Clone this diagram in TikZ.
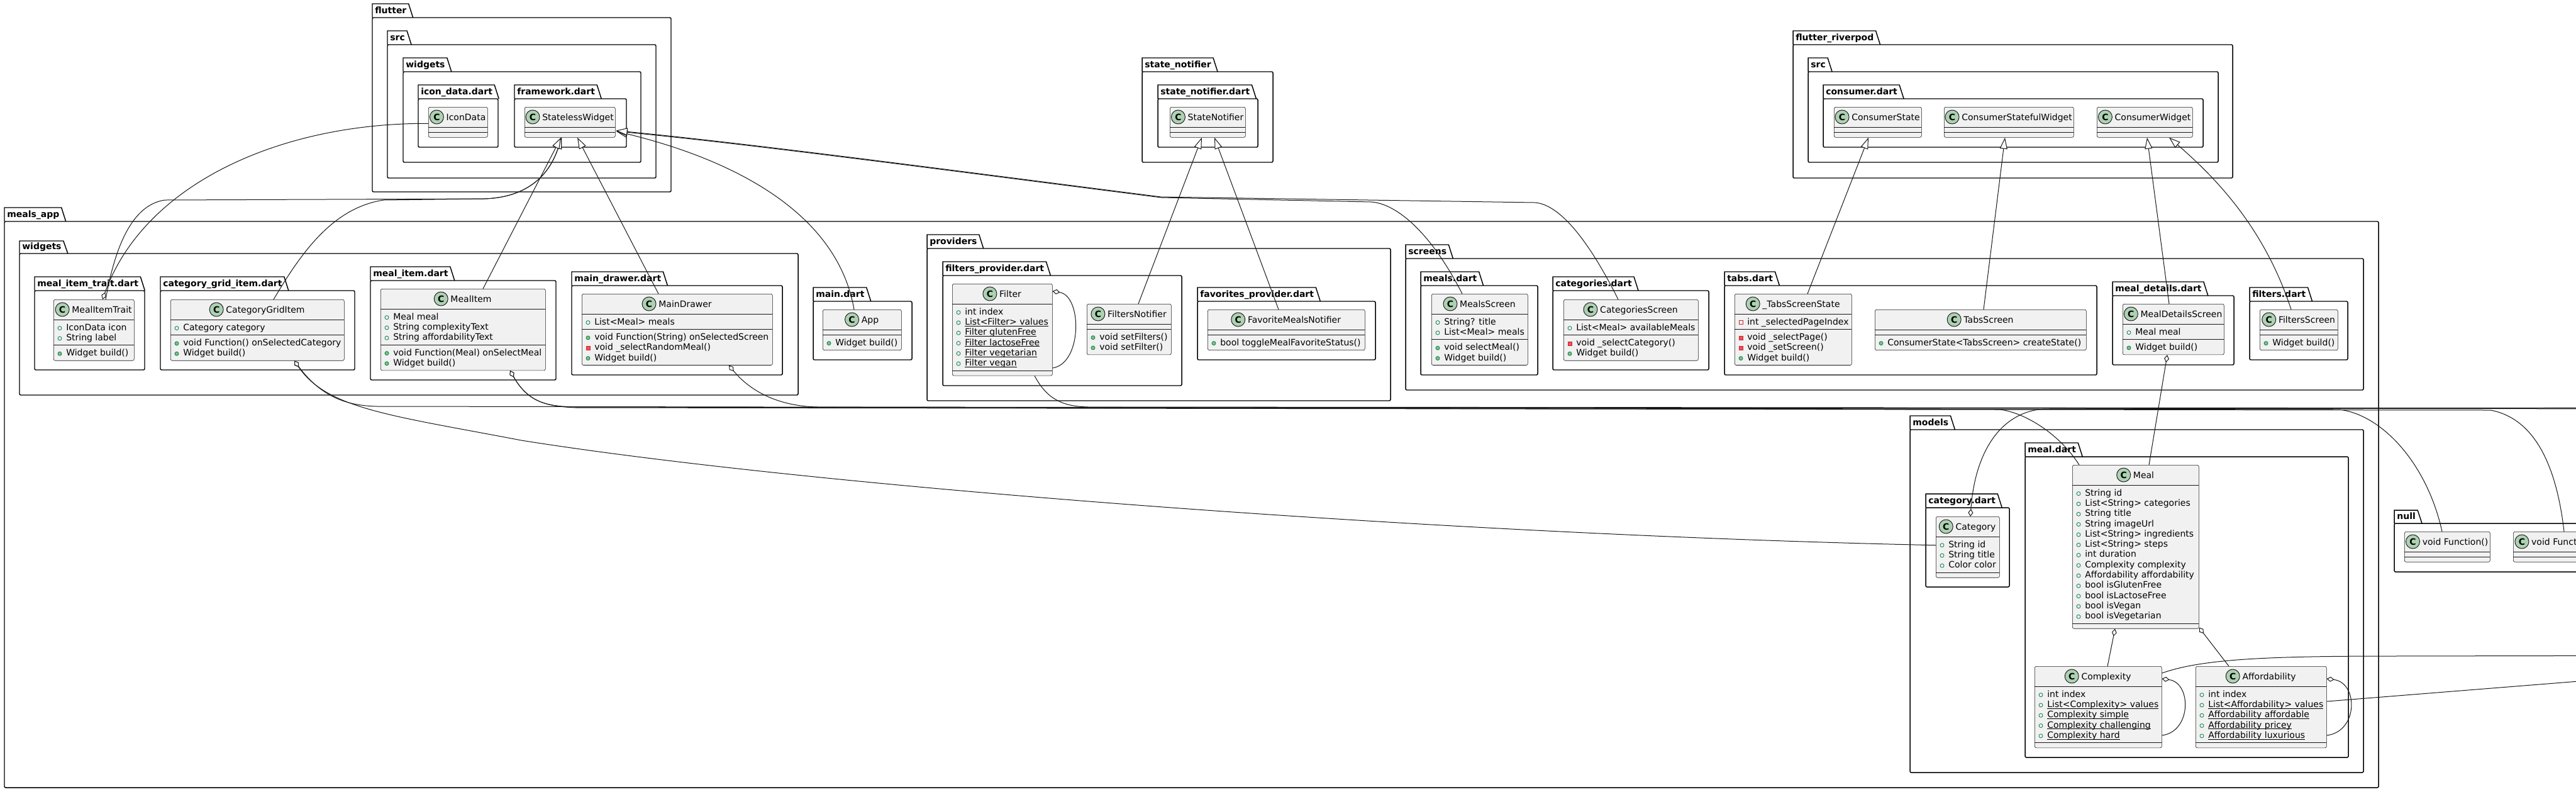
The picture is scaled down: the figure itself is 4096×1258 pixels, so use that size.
\documentclass[tikz,border=0pt]{standalone}
\usepackage{fontspec}
\setmainfont{DejaVu Sans}
\usetikzlibrary{arrows.meta,calc}
\definecolor{clsfill}{HTML}{F1F1F1}
\definecolor{clsline}{HTML}{181818}
\definecolor{circfill}{HTML}{ADD1B2}
\definecolor{pubdraw}{HTML}{038048}
\definecolor{pubfill}{HTML}{84BE84}
\definecolor{privdraw}{HTML}{C82930}
\definecolor{privfill}{HTML}{F24D5C}
\tikzset{
  pkgline/.style={line width=1.1pt, draw=black},
  pkglabel/.style={font=\bfseries\fontsize{10.5pt}{12pt}\selectfont, inner sep=0pt, anchor=base west},
  classbox/.style={draw=clsline, fill=clsfill, line width=0.45pt, rounded corners=1.9pt, inner sep=0pt, anchor=north west},
  sepline/.style={draw=clsline, line width=0.45pt},
  cname/.style={font=\fontsize{10.5pt}{12pt}\selectfont, inner sep=0pt},
  circC/.style={circle, draw=clsline, fill=circfill, line width=0.7pt, minimum size=16.5pt, inner sep=0pt, font=\bfseries\fontsize{10.5pt}{12pt}\selectfont},
  member/.style={font=\fontsize{10.5pt}{12pt}\selectfont, inner sep=0pt, anchor=base west},
  conn/.style={draw=clsline, line width=0.75pt},
  ext/.style={conn, -{Triangle[length=13.5pt,width=9pt,fill=white]}},
  agg/.style={conn, {Diamond[length=9pt,width=6pt,fill=white]}-},
}
% static member underline at a fixed depth
\newcommand\stul[1]{\setbox0=\hbox{#1}\rlap{\rule[-1.5pt]{\wd0}{0.6pt}}\box0}
% package: id, x1, ytab, ybody, x2, y2, label
\newcommand\pkg[7]{%
  \node[pkglabel] (#1) at ({#2+4},{#4-6.5}) {#7};
  \draw[pkgline, rounded corners=1.5pt] (#2,#4) rectangle (#5,#6);
  \draw[pkgline] (#2,#4) -- (#2,#3) -- ($(#1.base east |- 0,#3)+(3,0)$) -- ($(#1.base east |- 0,#4)+(10,0)$);
}
% class: id, x1, y1, x2, name, nattr, nmeth
\newcommand\umlcls[7]{%
  \def\curcls{#1}%
  \pgfmathsetmacro\cxA{#2}%
  \pgfmathsetmacro\cyA{#3+32}%
  \pgfmathsetmacro\cyM{#3+40+16.3*#6}%
  \pgfmathsetmacro\cyB{\cyM+8+16.3*#7}%
  \pgfmathsetmacro\cW{(#4-#2)*0.75}%
  \pgfmathsetmacro\cH{(\cyB-#3)*0.75}%
  \node[classbox, minimum width=\cW pt, minimum height=\cH pt] (#1) at (#2,#3) {};
  \draw[sepline] (#2,\cyA) -- (#4,\cyA);
  \draw[sepline] (#2,\cyM) -- (#4,\cyM);
  \node[cname, anchor=base] (#1name) at ({(#2+#4)/2+13},{#3+21}) {#5};
  \node[circC] (#1circ) at ($(#1name.base west)+(-15,-5)$) {C};
}
\newcommand\vispf[2]{\draw[draw=pubdraw, line width=0.6pt] ({#1},{#2}) circle[radius=2.25pt];}
\newcommand\vispm[2]{\filldraw[draw=pubdraw, fill=pubfill, line width=0.6pt] ({#1},{#2}) circle[radius=2.25pt];}
\newcommand\visvf[2]{\draw[draw=privdraw, line width=0.6pt] ({#1-3},{#2-3}) rectangle ({#1+3},{#2+3});}
\newcommand\visvm[2]{\filldraw[draw=privdraw, fill=privfill, line width=0.6pt] ({#1-3},{#2-3}) rectangle ({#1+3},{#2+3});}
% member: section A/M, index, icon, text
\newcommand\mem[4]{%
  \pgfmathsetmacro\mRy{\csname cy#1\endcsname+4+16.3*(#2+0.5)}%
  \csname vis#3\endcsname{\cxA+10}{\mRy+1.5}%
  \node[member] (\curcls#1#2) at ({\cxA+20},{\mRy+5}) {#4};
}
\begin{document}
\begin{tikzpicture}[x=0.75pt,y=-0.75pt]
\useasboundingbox (0,0) rectangle (4096,1258);
\fill[white] (0,0) rectangle (4096,1258);

% ---------- packages ----------
\pkg{pkflutter}{592}{6}{28}{1067}{305}{flutter}
\pkg{pkfsrc}{616}{49}{71}{1043}{283}{src}
\pkg{pkfwidgets}{641}{92}{114}{1019}{258}{widgets}
\pkg{pkicondata}{665}{135}{157}{792}{234}{icon\_data.dart}
\pkg{pkframework}{818}{135}{157}{996}{234}{framework.dart}
\pkg{pksn}{1816}{92}{114}{2024}{258}{state\_notifier}
\pkg{pksndart}{1841}{135}{157}{2000}{234}{state\_notifier.dart}
\pkg{pkfr}{2851}{49}{71}{3550}{283}{flutter\_riverpod}
\pkg{pkfrsrc}{2875}{92}{114}{3527}{258}{src}
\pkg{pkconsumer}{2899}{135}{157}{3503}{234}{consumer.dart}
\pkg{pkmeals}{7}{330}{352}{3782}{1252}{meals\_app}
\pkg{pkmwidgets}{31}{383}{403}{1269}{628}{widgets}
\pkg{pkmit}{55}{440}{462}{230}{588}{meal\_item\_trait.dart}
\pkg{pkcgi}{255}{440}{462}{564}{588}{category\_grid\_item.dart}
\pkg{pkmi}{589}{424}{446}{884}{604}{meal\_item.dart}
\pkg{pkmd}{909}{432}{454}{1244}{596}{main\_drawer.dart}
\pkg{pkmain}{1293}{457}{479}{1450}{572}{main.dart}
\pkg{pkprov}{1474}{373}{395}{2211}{637}{providers}
\pkg{pkfp}{1499}{416}{438}{1879}{613}{filters\_provider.dart}
\pkg{pkfavp}{1904}{457}{479}{2187}{572}{favorites\_provider.dart}
\pkg{pkscreens}{2235}{389}{411}{3758}{620}{screens}
\pkg{pkmealsd}{2259}{432}{454}{2445}{596}{meals.dart}
\pkg{pkcat}{2469}{440}{462}{2717}{588}{categories.dart}
\pkg{pktabs}{2742}{432}{454}{3334}{596}{tabs.dart}
\pkg{pkmdet}{3359}{448}{470}{3552}{580}{meal\_details.dart}
\pkg{pkfilt}{3577}{457}{479}{3733}{572}{filters.dart}
\pkg{pkmodels}{3037}{661}{683}{3758}{1228}{models}
\pkg{pkcatd}{3062}{785}{807}{3195}{933}{category.dart}
\pkg{pkmeald}{3220}{704}{726}{3734}{1204}{meal.dart}
\pkg{pknull}{3807}{811}{832}{4300}{909}{null}

% ---------- classes ----------
\umlcls{IconData}{681}{170}{775}{IconData}{0}{0}
\umlcls{StatelessWidget}{834}{170}{978}{StatelessWidget}{0}{0}
\umlcls{StateNotifier}{1860}{170}{1980}{StateNotifier}{0}{0}
\umlcls{ConsumerState}{2916}{170}{3055}{ConsumerState}{0}{0}
\umlcls{ConsumerStatefulWidget}{3091}{170}{3297}{ConsumerStatefulWidget}{0}{0}
\umlcls{ConsumerWidget}{3334}{170}{3486}{ConsumerWidget}{0}{0}

\umlcls{MealItemTrait}{85}{476}{213}{MealItemTrait}{2}{1}
\mem{A}{0}{pf}{IconData icon}
\mem{A}{1}{pf}{String label}
\mem{M}{0}{pm}{Widget build()}

\umlcls{CategoryGridItem}{271}{476}{547}{CategoryGridItem}{1}{2}
\mem{A}{0}{pf}{Category category}
\mem{M}{0}{pm}{void Function() onSelectedCategory}
\mem{M}{1}{pm}{Widget build()}

\umlcls{MealItem}{605}{459}{867}{MealItem}{3}{2}
\mem{A}{0}{pf}{Meal meal}
\mem{A}{1}{pf}{String complexityText}
\mem{A}{2}{pf}{String affordabilityText}
\mem{M}{0}{pm}{void Function(Meal) onSelectMeal}
\mem{M}{1}{pm}{Widget build()}

\umlcls{MainDrawer}{925}{467}{1228}{MainDrawer}{1}{3}
\mem{A}{0}{pf}{List<Meal> meals}
\mem{M}{0}{pm}{void Function(String) onSelectedScreen}
\mem{M}{1}{vm}{void \_selectRandomMeal()}
\mem{M}{2}{pm}{Widget build()}

\umlcls{App}{1308}{492}{1433}{App}{0}{1}
\mem{M}{0}{pm}{Widget build()}

\umlcls{Filter}{1514}{451}{1673}{Filter}{6}{0}
\mem{A}{0}{pf}{int index}
\mem{A}{1}{pf}{\stul{List<Filter> values}}
\mem{A}{2}{pf}{\stul{Filter glutenFree}}
\mem{A}{3}{pf}{\stul{Filter lactoseFree}}
\mem{A}{4}{pf}{\stul{Filter vegetarian}}
\mem{A}{5}{pf}{\stul{Filter vegan}}

\umlcls{FiltersNotifier}{1728}{483}{1862}{FiltersNotifier}{0}{2}
\mem{M}{0}{pm}{void setFilters()}
\mem{M}{1}{pm}{void setFilter()}

\umlcls{FavoriteMealsNotifier}{1920}{492}{2170}{FavoriteMealsNotifier}{0}{1}
\mem{M}{0}{pm}{bool toggleMealFavoriteStatus()}

\umlcls{MealsScreen}{2276}{467}{2429}{MealsScreen}{2}{2}
\mem{A}{0}{pf}{String? title}
\mem{A}{1}{pf}{List<Meal> meals}
\mem{M}{0}{pm}{void selectMeal()}
\mem{M}{1}{pm}{Widget build()}

\umlcls{CategoriesScreen}{2486}{476}{2700}{CategoriesScreen}{1}{2}
\mem{A}{0}{pf}{List<Meal> availableMeals}
\mem{M}{0}{vm}{void \_selectCategory()}
\mem{M}{1}{pm}{Widget build()}

\umlcls{TabsScreenState}{2758}{467}{2944}{\_TabsScreenState}{1}{3}
\mem{A}{0}{vf}{int \_selectedPageIndex}
\mem{M}{0}{vm}{void \_selectPage()}
\mem{M}{1}{vm}{void \_setScreen()}
\mem{M}{2}{pm}{Widget build()}

\umlcls{TabsScreen}{2981}{492}{3317}{TabsScreen}{0}{1}
\mem{M}{0}{pm}{ConsumerState<TabsScreen> createState()}

\umlcls{MealDetailsScreen}{3375}{483}{3536}{MealDetailsScreen}{1}{1}
\mem{A}{0}{pf}{Meal meal}
\mem{M}{0}{pm}{Widget build()}

\umlcls{FiltersScreen}{3593}{492}{3717}{FiltersScreen}{0}{1}
\mem{M}{0}{pm}{Widget build()}

\umlcls{Category}{3078}{821}{3179}{Category}{3}{0}
\mem{A}{0}{pf}{String id}
\mem{A}{1}{pf}{String title}
\mem{A}{2}{pf}{Color color}

\umlcls{Meal}{3295}{739}{3496}{Meal}{13}{0}
\mem{A}{0}{pf}{String id}
\mem{A}{1}{pf}{List<String> categories}
\mem{A}{2}{pf}{String title}
\mem{A}{3}{pf}{String imageUrl}
\mem{A}{4}{pf}{List<String> ingredients}
\mem{A}{5}{pf}{List<String> steps}
\mem{A}{6}{pf}{int duration}
\mem{A}{7}{pf}{Complexity complexity}
\mem{A}{8}{pf}{Affordability affordability}
\mem{A}{9}{pf}{bool isGlutenFree}
\mem{A}{10}{pf}{bool isLactoseFree}
\mem{A}{11}{pf}{bool isVegan}
\mem{A}{12}{pf}{bool isVegetarian}

\umlcls{Complexity}{3235}{1059}{3437}{Complexity}{5}{0}
\mem{A}{0}{pf}{int index}
\mem{A}{1}{pf}{\stul{List<Complexity> values}}
\mem{A}{2}{pf}{\stul{Complexity simple}}
\mem{A}{3}{pf}{\stul{Complexity challenging}}
\mem{A}{4}{pf}{\stul{Complexity hard}}

\umlcls{Affordability}{3491}{1059}{3699}{Affordability}{5}{0}
\mem{A}{0}{pf}{int index}
\mem{A}{1}{pf}{\stul{List<Affordability> values}}
\mem{A}{2}{pf}{\stul{Affordability affordable}}
\mem{A}{3}{pf}{\stul{Affordability pricey}}
\mem{A}{4}{pf}{\stul{Affordability luxurious}}

\umlcls{vfA}{3823}{845}{3959}{void Function()}{0}{0}
\umlcls{vfB}{3996}{845}{4166}{void Function(Meal)}{0}{0}

% ---------- off-page ends ----------
\coordinate (offVFS) at (4300,650);
\coordinate (offColor) at (4300,648);
\coordinate (offEnumF) at (4300,649);
\coordinate (offEnumC) at (4300,1042);
\coordinate (offEnumA) at (4300,1067);

% ---------- inheritance ----------
\draw[ext] ($(MealItemTrait.north west)+(83,0)$) .. controls (185,380) and (215,325) .. (262,318) -- (770,316) .. controls (835,314) and (872,282) .. ($(StatelessWidget.south west)+(59,0)$);
\draw[ext] ($(CategoryGridItem.north west)+(164,0)$) .. controls (480,400) and (530,330) .. (610,318) -- (770,316) .. controls (835,314) and (872,282) .. ($(StatelessWidget.south west)+(59,0)$);
\draw[ext] ($(MealItem.north west)+(163,0)$) -- ($(StatelessWidget.south west)+(58,0)$);
\draw[ext] ($(MainDrawer.north west)+(122,0)$) -- ($(StatelessWidget.south west)+(84,0)$);
\draw[ext] ($(App.north west)+(50,0)$) .. controls (1330,330) and (1150,250) .. ($(StatelessWidget.south east)+(1,-10)$);
\draw[ext] ($(MealsScreen.north west)+(49,0)$) .. controls (2270,360) and (2215,323) .. (2180,321) -- (1846,314) .. controls (1500,270) and (1200,230) .. ($(StatelessWidget.south east)+(1,-10)$);
\draw[ext] ($(CategoriesScreen.north west)+(87,0)$) .. controls (2520,370) and (2475,324) .. (2440,322) -- (1846,313) .. controls (1500,269) and (1200,229) .. ($(StatelessWidget.south east)+(1,-11)$);
\draw[ext] ($(FiltersNotifier.north west)+(82,0)$) -- ($(StateNotifier.south west)+(51,0)$);
\draw[ext] ($(FavoriteMealsNotifier.north west)+(113,0)$) -- ($(StateNotifier.south west)+(71,0)$);
\draw[ext] ($(TabsScreenState.north west)+(116,0)$) -- ($(ConsumerState.south west)+(55,0)$);
\draw[ext] ($(TabsScreen.north west)+(173,0)$) -- ($(ConsumerStatefulWidget.south west)+(97,0)$);
\draw[ext] ($(MealDetailsScreen.north west)+(74,0)$) -- ($(ConsumerWidget.south west)+(80,0)$);
\draw[ext] ($(FiltersScreen.north west)+(50,0)$) .. controls (3600,360) and (3520,280) .. ($(ConsumerWidget.south west)+(115,0)$);
\draw[ext] ($(Filter.south west)+(131,0)$) .. controls (1665,635) and (1690,646) .. (1730,647) -- (offEnumF);
\draw[ext] ($(Complexity.north east)+(0,11)$) .. controls (3500,1048) and (3600,1043) .. (3800,1043) -- (offEnumC);
\draw[ext] ($(Affordability.north east)+(0,56)$) -- (offEnumA);

% ---------- aggregation ----------
\draw[agg] ($(MealItemTrait.north west)+(78,0)$) .. controls (230,290) and (450,195) .. ($(IconData.west)+(0,2)$);
\draw[agg] ($(CategoryGridItem.south west)+(197,0)$) .. controls (520,650) and (620,660) .. (829,700) .. controls (1300,775) and (2300,850) .. ($(Category.west)+(0,-3)$);
\draw[agg] ($(CategoryGridItem.south west)+(197,0)$) .. controls (510,630) and (550,645) .. (600,646) -- (3720,651) .. controls (3790,660) and (3860,740) .. ($(vfA.north west)+(60,0)$);
\draw[agg] ($(MealItem.south west)+(206,0)$) .. controls (840,640) and (870,646) .. (915,647) -- (3180,651) .. controls (3220,656) and (3275,690) .. ($(Meal.north west)+(11,0)$);
\draw[agg] ($(MealItem.south west)+(206,0)$) .. controls (840,640) and (870,646) .. (915,648) -- (3960,652) .. controls (4030,665) and (4065,740) .. ($(vfB.north west)+(81,0)$);
\draw[agg] ($(MainDrawer.south west)+(234,0)$) .. controls (1200,630) and (1250,646) .. (1300,647) -- (offVFS);
\draw[agg] ($(MealDetailsScreen.south west)+(71,0)$) -- ($(Meal.north west)+(122,0)$);
\draw[agg] ($(Meal.south west)+(68,0)$) -- ($(Complexity.north west)+(116,0)$);
\draw[agg] ($(Meal.south east)+(0,-2)$) -- ($(Affordability.north west)+(53,0)$);
\draw[agg] ($(Complexity.north east)+(0,20)$) .. controls (3485,1085) and (3485,1163) .. ($(Complexity.north east)+(0,110)$);
\draw[agg] ($(Affordability.north east)+(0,20)$) .. controls (3750,1085) and (3750,1163) .. ($(Affordability.north east)+(0,110)$);
\draw[agg] ($(Filter.north east)+(0,12)$) .. controls (1721,470) and (1721,578) .. ($(Filter.north east)+(0,134)$);
\draw[agg] ($(Category.north west)+(55,0)$) .. controls (3140,720) and (3180,655) .. (3250,650) -- (offColor);
\end{tikzpicture}
\end{document}
